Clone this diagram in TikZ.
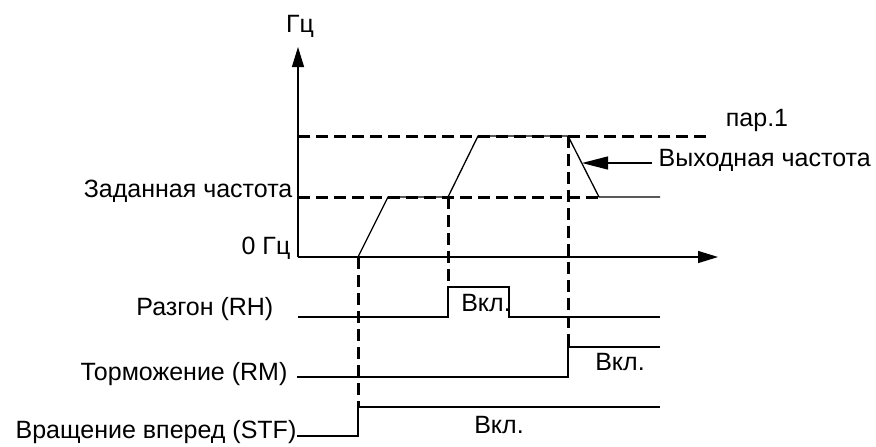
\documentclass[tikz,border=0pt]{standalone}
\usepackage{fontspec}
\setmainfont{Liberation Sans}
\usetikzlibrary{arrows.meta}
\begin{document}
\begin{tikzpicture}[x=0.5pt, y=-0.5pt, line width=0.65pt,
	lbl/.style={font=\fontsize{12.5}{15}\selectfont, inner sep=0pt},
	dsh/.style={line width=1.5pt, dash pattern=on 6pt off 3pt},
	axis/.style={-{Triangle[length=10pt,width=6pt]}}]
	\useasboundingbox (0,0) rectangle (876,446);
	\coordinate (O) at (298,257);
	\coordinate (ytop) at (298,47);
	\coordinate (xend) at (718,257);
	\draw[axis] (O) -- (ytop);
	\draw[axis] (O) -- (xend);
	\node[lbl, anchor=base] (hz) at (300,32) {Гц};
	\node[lbl, anchor=base east] (zero) at (291,254) {0 Гц};
	\node[lbl, anchor=base east] (setf) at (293,197) {Заданная частота};
	\node[lbl, anchor=base] (par) at (757,126) {пар.1};
	\node[lbl, anchor=base west] (outf) at (658,166) {Выходная частота};
	\coordinate (a) at (358,257);
	\coordinate (b) at (388,197);
	\coordinate (c) at (448,197);
	\coordinate (d) at (478,136);
	\coordinate (e) at (568,136);
	\coordinate (f) at (599,197);
	\coordinate (g) at (660,197);
	\draw[dsh] (298,136) -- (710,136);
	\draw[dsh] (298,197) -- (f);
	\draw (a) -- (b) -- (c) -- (d) -- (e) -- (f) -- (g);
	\draw[-{Triangle[length=13pt,width=6.5pt]}] (652,163) -- (582,163);
	\node[lbl, anchor=base east] (rh) at (274,315) {Разгон (RH)};
	\node[lbl, anchor=base east] (rm) at (288,380) {Торможение (RM)};
	\node[lbl, anchor=base east] (stf) at (297,438) {Вращение вперед (STF)};
	\draw (298,317) -- (448,317) |- (509,287) |- (660,317);
	\draw (297,377) -| (568,347) -- (660,347);
	\draw (297,436) -| (358,407) -- (660,407);
	\draw[dsh] (a) -- (358,407);
	\draw[dsh] (c) -- (448,287);
	\draw[dsh] (e) -- (568,347);
	\node[lbl, anchor=base] (on1) at (486,311) {Вкл.};
	\node[lbl, anchor=base] (on2) at (620,370) {Вкл.};
	\node[lbl, anchor=base] (on3) at (499,433) {Вкл.};
\end{tikzpicture}
\end{document}
